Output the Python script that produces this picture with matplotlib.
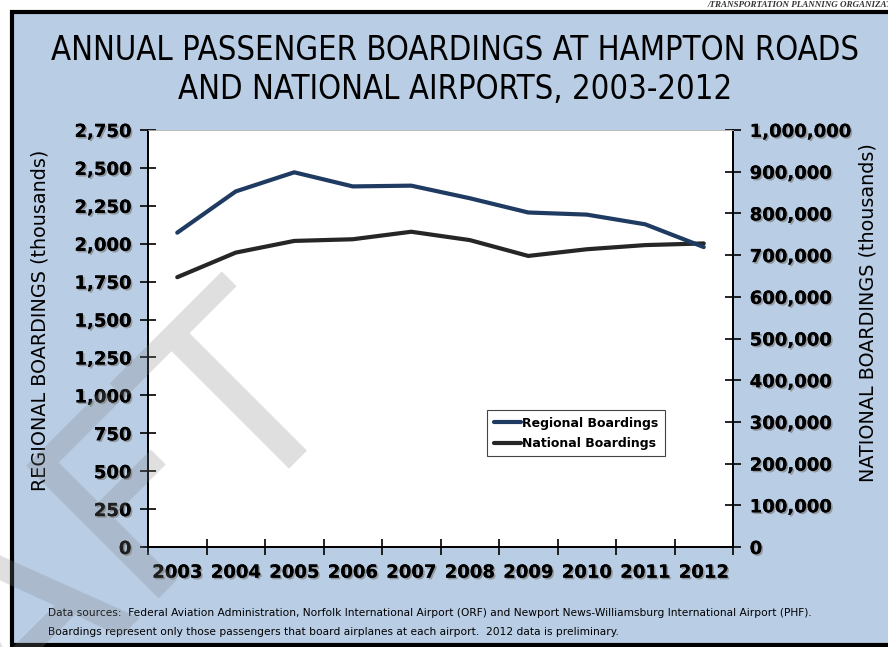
import matplotlib
matplotlib.use('Agg')
import matplotlib.pyplot as plt
import matplotlib.patheffects as pe
from matplotlib.patches import Rectangle
from matplotlib.ticker import FuncFormatter, MultipleLocator

years = ['2003', '2004', '2005', '2006', '2007', '2008', '2009', '2010', '2011', '2012']
regional = [2073, 2345, 2471, 2378, 2383, 2300, 2206, 2192, 2128, 1978]
national = [647000, 706000, 734000, 738000, 756000, 736000, 698000, 714000, 724000, 728000]

BLUE_BG = '#B9CDE5'
REG_COLOR = '#1F3B61'
NAT_COLOR = '#262626'

shadow = [pe.withSimplePatchShadow(offset=(1.2, -1.2), shadow_rgbFace='#808080', alpha=0.7), pe.Normal()]

fig = plt.figure(figsize=(8.88, 6.47), dpi=100)
fig.patch.set_facecolor('white')

# framed blue panel behind everything
panel = Rectangle((12 / 888, 2 / 647), 0.99, 1 - 14 / 647, transform=fig.transFigure,
                  facecolor=BLUE_BG, edgecolor='black', linewidth=3, zorder=-5)
fig.patches.append(panel)

fig.text(0.797, 0.999, '/TRANSPORTATION PLANNING ORGANIZATION', fontsize=6.5, family='Liberation Serif',
         style='italic', weight='bold', color='#333333', ha='left', va='top')

fig.text(0.512, 0.892, 'ANNUAL PASSENGER BOARDINGS AT HAMPTON ROADS\nAND NATIONAL AIRPORTS, 2003-2012',
         ha='center', va='center', fontsize=23.5, linespacing=1.22,
         family='DejaVu Sans', fontstretch='condensed')

ax = fig.add_axes([148 / 888, 1 - 547 / 647, (733 - 148) / 888, (547 - 130) / 647])
ax2 = ax.twinx()

x = list(range(len(years)))
l2, = ax2.plot(x, national, color=NAT_COLOR, linewidth=3.0, solid_capstyle='round', label='National Boardings')
l1, = ax.plot(x, regional, color=REG_COLOR, linewidth=3.0, solid_capstyle='round', label='Regional Boardings')
ax.set_zorder(ax2.get_zorder() + 1)
ax.patch.set_visible(False)
ax2.patch.set_visible(True)
ax2.patch.set_facecolor('white')

ax.set_xlim(-0.5, len(years) - 0.5)
ax.set_ylim(0, 2750)
ax2.set_ylim(0, 1000000)

ax.yaxis.set_major_locator(MultipleLocator(250))
ax2.yaxis.set_major_locator(MultipleLocator(100000))
comma = FuncFormatter(lambda v, p: f'{int(v):,}')
ax.yaxis.set_major_formatter(comma)
ax2.yaxis.set_major_formatter(comma)

ax.set_xticks([i - 0.5 for i in range(len(years) + 1)])
ax.set_xticklabels([])
ax.set_xticks(x, minor=True)
ax.set_xticklabels(years, minor=True)
ax.tick_params(axis='x', which='major', direction='inout', length=12, width=1.2)
ax.tick_params(axis='x', which='minor', length=0, pad=12)
ax.tick_params(axis='y', direction='inout', length=12, width=1.2, pad=6)
ax2.tick_params(axis='y', direction='inout', length=12, width=1.2, pad=6)

for lbl in ax.get_xticklabels(minor=True) + ax.get_yticklabels() + ax2.get_yticklabels():
    lbl.set_fontsize(13)
    lbl.set_fontweight('bold')
    lbl.set_path_effects(shadow)

for a in (ax, ax2):
    a.spines['top'].set_color('#bbbbbb')
    a.spines['top'].set_linewidth(0.6)
    a.spines['left'].set_linewidth(1.3)
    a.spines['right'].set_linewidth(1.3)
    a.spines['bottom'].set_linewidth(1.3)

fig.text(0.045, 0.505, 'REGIONAL BOARDINGS (thousands)', rotation=90, ha='center', va='center', fontsize=13.8)
fig.text(0.978, 0.517, 'NATIONAL BOARDINGS (thousands)', rotation=90, ha='center', va='center', fontsize=13.8)

leg = ax.legend(handles=[l1, l2], loc='upper left', bbox_to_anchor=(481 / 888, 1 - 404 / 647),
                bbox_transform=fig.transFigure, frameon=True, fancybox=False, framealpha=1,
                handlelength=2.2, handletextpad=0.1, borderpad=0.5, labelspacing=0.6,
                prop={'weight': 'bold', 'size': 9})
leg.get_frame().set_edgecolor('#444444')
leg.get_frame().set_linewidth(0.8)

fig.text(48 / 888, 1 - 613 / 647,
         'Data sources:  Federal Aviation Administration, Norfolk International Airport (ORF) and Newport News-Williamsburg International Airport (PHF).',
         fontsize=7.7, va='center', ha='left')
fig.text(48 / 888, 1 - 632 / 647,
         'Boardings represent only those passengers that board airplanes at each airport.  2012 data is preliminary.',
         fontsize=7.7, va='center', ha='left')

# draft watermark on top
fig.text(209 / 888, 1 - 248 / 647, 'DRAFT', rotation=45, rotation_mode='anchor', ha='right', va='top',
         fontsize=185, color='#808080', alpha=0.25, zorder=10)

fig.savefig('out.png', dpi=100)
